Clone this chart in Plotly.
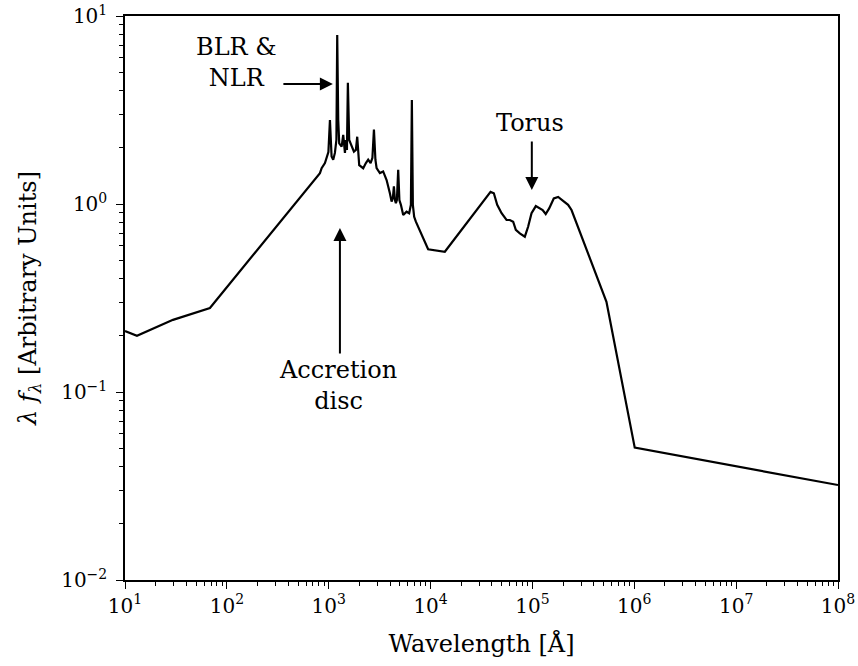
import plotly.graph_objects as go

# Composite AGN spectral energy distribution (wavelength in Angstrom, lambda*f_lambda)
wavelength = [
    10, 13.1, 29.6, 68.2, 820, 852, 918, 953, 993, 1028, 1067, 1107, 1150, 1190,
    1212, 1240, 1268, 1339, 1388, 1443, 1476, 1510, 1542, 1589, 1679, 1768, 1849,
    1905, 1992, 2181, 2317, 2441, 2578, 2685, 2780, 2874, 2952, 3179, 3424, 3701,
    3987, 4144, 4266, 4365, 4467, 4565, 4670, 4810, 4942, 5113, 5387, 5811, 6165,
    6410, 6551, 6700, 6903, 7172, 9462, 13800, 38800, 41800, 45100, 49800, 55700,
    60000, 64700, 68700, 75200, 84200, 90700, 98000, 108000, 118000, 126000,
    135000, 146000, 162000, 179000, 200000, 224000, 242000, 533000, 1.01e6, 1e8,
]
flux = [
    0.211, 0.199, 0.242, 0.280, 1.46, 1.55, 1.65, 1.79, 1.89, 2.80, 1.79, 1.72,
    1.87, 2.19, 7.92, 2.80, 2.10, 2.02, 2.33, 1.87, 2.19, 1.94, 4.42, 2.19, 2.02,
    1.90, 1.94, 2.28, 1.61, 1.55, 1.65, 1.72, 1.65, 1.76, 2.49, 1.72, 1.55, 1.46,
    1.49, 1.34, 1.14, 1.03, 1.08, 1.24, 1.05, 1.01, 1.05, 1.52, 1.05, 0.99, 0.873,
    0.910, 0.893, 0.99, 3.57, 0.99, 0.855, 0.805, 0.574, 0.557, 1.16, 1.14, 0.99,
    0.893, 0.822, 0.822, 0.805, 0.728, 0.698, 0.670, 0.757, 0.893, 0.975, 0.948,
    0.929, 0.885, 0.948, 1.07, 1.09, 1.04, 0.99, 0.929, 0.302, 0.0506, 0.032,
]

x_decades = [1, 2, 3, 4, 5, 6, 7, 8]
x_ticktext = ["10<sup>%d</sup>" % d for d in x_decades]
y_decades = [-2, -1, 0, 1]
y_ticktext = ["10<sup>\u2212%d</sup>" % -d if d < 0 else "10<sup>%d</sup>" % d
              for d in y_decades]

FONT = "DejaVu Serif"
TITLE_SIZE = 24
TICK_SIZE = 20

x_minor = [m * 10 ** d for d in range(1, 8) for m in range(2, 10)]
y_minor = [m * 10 ** d for d in range(-2, 1) for m in range(2, 10)]

fig = go.Figure()
fig.add_trace(go.Scatter(
    x=wavelength, y=flux, mode="lines",
    line=dict(color="black", width=2.2),
    showlegend=False, hoverinfo="skip",
))

axis_common = dict(
    type="log", showgrid=False, zeroline=False, automargin=False,
    showline=True, linecolor="black", linewidth=1.5, mirror=True,
    ticks="outside", ticklen=7, tickwidth=1.3, tickcolor="black",
    tickfont=dict(family=FONT, size=TICK_SIZE, color="black"),
)

fig.update_xaxes(
    **axis_common,
    range=[1, 8],
    tickvals=[10 ** d for d in x_decades], ticktext=x_ticktext,
    minor=dict(tickvals=x_minor, ticks="outside", ticklen=4,
               tickwidth=1, tickcolor="black"),
    title=dict(text="Wavelength [\u00c5]",
               font=dict(family=FONT, size=TITLE_SIZE, color="black"),
               standoff=18),
)
fig.update_yaxes(
    **axis_common,
    range=[-2, 1],
    ticklabelstandoff=5,
    tickvals=[10 ** d for d in y_decades], ticktext=y_ticktext,
    minor=dict(tickvals=y_minor, ticks="outside", ticklen=4,
               tickwidth=1, tickcolor="black"),
    title=dict(text="<i>\u03bb f</i><sub><i>\u03bb</i></sub> [Arbitrary Units]",
               font=dict(family=FONT, size=TITLE_SIZE, color="black"), standoff=18),
)

txt_font = dict(family=FONT, size=TITLE_SIZE, color="black")
arrow_style = dict(showarrow=True, arrowhead=2, arrowsize=1.3, arrowwidth=2,
                   arrowcolor="black", text="", xref="x", yref="y")

annotations = [
    # labels (log10 coordinates on log axes)
    dict(x=2.099, y=0.755, text="BLR &amp;<br>NLR", showarrow=False,
         xref="x", yref="y", font=txt_font),
    dict(x=4.974, y=0.43, text="Torus", showarrow=False,
         xref="x", yref="y", font=txt_font),
    dict(x=3.090, y=-0.968, text="Accretion<br>disc", showarrow=False,
         xref="x", yref="y", font=txt_font),
    # arrows
    dict(x=3.041, y=0.638, ax=-51, ay=0, **arrow_style),
    dict(x=4.994, y=0.074, ax=0, ay=-50, **arrow_style),
    dict(x=3.110, y=-0.128, ax=0, ay=127, **arrow_style),
]

fig.update_layout(
    width=858, height=666,
    margin=dict(l=125, r=20, t=16, b=86),
    plot_bgcolor="white", paper_bgcolor="white",
    font=dict(family=FONT, size=TITLE_SIZE, color="black"),
    annotations=annotations,
)

fig.write_html("out.html")
